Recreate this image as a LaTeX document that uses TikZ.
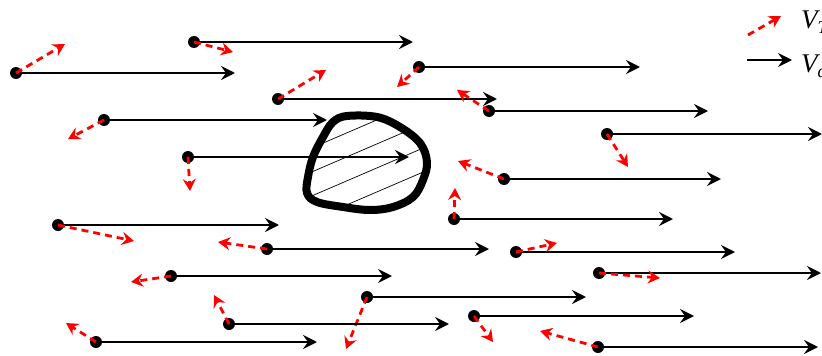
\documentclass[tikz,border=0pt]{standalone}
\usepackage{fontspec}
\setmainfont{Liberation Serif}
\usetikzlibrary{arrows.meta}
\newcommand{\legsub}[1]{\raisebox{-5pt}{\fontsize{18}{18}\selectfont\itshape #1}}
\begin{document}
\begin{tikzpicture}[x=1pt,y=-1pt,
  flow/.style={draw=black,line width=2.7pt,-{Stealth[length=14pt,width=14pt,inset=5pt]}},
  vt/.style={draw=red,line width=2.8pt,dash pattern=on 7pt off 5pt,-{Stealth[length=12pt,width=13pt,inset=4pt]}},
  dot/.style={circle,fill=black,inner sep=0pt,minimum size=12pt},
  blob/.style={draw=black,line width=8pt},
  hatch/.style={draw=black,line width=0.7pt},
  lbl/.style={font=\fontsize{27}{29}\selectfont\itshape,anchor=base west,inner sep=0pt}]
\useasboundingbox (0,0) rectangle (822,356);
\clip (0,0) rectangle (822,356);
% particles: black = V_alpha, red dashed = V_T
\foreach \i/\x/\y/\bx/\rx/\ry in {1/16/73/235/65/44, 2/194/42/413/233/52, 3/104/120/327/68/139,
  4/188/157/409/190/191, 5/278/99/497/326/70, 6/419/67/640/397/87, 7/489/111/708/457/90,
  8/607/134/822/628/167, 9/504/179/721/458/161, 10/454/219/673/455/188,
  11/58/225/279/134/241, 12/267/249/489/218/242, 13/516/252/735/557/243,
  14/171/276/392/131/282, 15/599/273/821/660/278, 16/367/297/586/346/349,
  17/229/324/449/214/295, 18/474/316/694/493/342, 19/96/342/317/66/323,
  20/598/347/818/540/331}{
  \coordinate (b\i) at (\bx,\y);
  \coordinate (r\i) at (\rx,\ry);
  \node[dot] (p\i) at (\x,\y) {};
  \draw[flow] (p\i.center) -- (b\i);
  \draw[vt] (p\i.center) -- (r\i);
}
% obstacle
\def\blobpath{plot[smooth cycle,tension=0.6] coordinates {(347,116) (377,117) (400,127) (420,143) (427,162) (423,180) (413,197) (393,207) (370,210) (343,207) (317,202) (307,193) (308,177) (313,157) (323,137) (333,122)}}
\begin{scope}
\path[clip] \blobpath;
\foreach \c in {282,306,330,354}{
  \draw[hatch] (280,{\c-0.43*280}) -- (450,{\c-0.43*450});
}
\end{scope}
\draw[blob] \blobpath;
% legend
\coordinate (lt1) at (748,35);
\coordinate (lt2) at (781,16);
\coordinate (la1) at (747,60);
\coordinate (la2) at (792,60);
\draw[vt] (lt1) -- (lt2);
\draw[flow] (la1) -- (la2);
\node[lbl] (vt) at (801,28) {V\legsub{T}};
\node[lbl] (va) at (801,72) {V\legsub{α}};
\end{tikzpicture}%
\end{document}
